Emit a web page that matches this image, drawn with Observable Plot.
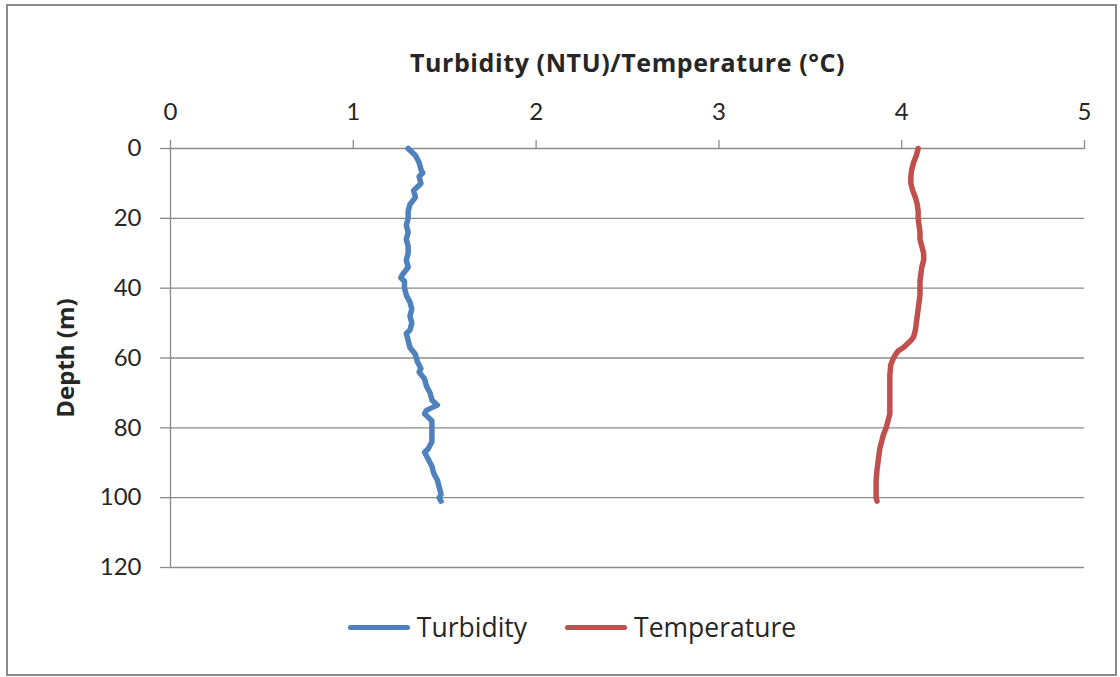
<!DOCTYPE html>
<html>
<head>
<meta charset="utf-8">
<script src="https://cdn.jsdelivr.net/npm/d3@7"></script>
<script src="https://cdn.jsdelivr.net/npm/@observablehq/plot@0.6"></script>
<style>
  html, body { margin: 0; padding: 0; background: #fff; }
  #wrap { position: relative; width: 1120px; height: 677px; overflow: hidden; font-family: Lato, "Open Sans", sans-serif; }
  #frame { position: absolute; left: 6px; top: 4px; width: 1111px; height: 672px; box-sizing: border-box; border: 2px solid #8a8a8a; pointer-events: none; }
  #chart { position: absolute; left: 0; top: 0; }
  #legend { position: absolute; left: 0; top: 606px; width: 1120px; height: 42px; display: flex; justify-content: center; align-items: center; padding-left: 24px; box-sizing: border-box; }
  .item { display: flex; align-items: center; margin: 0 19px; font-family: "Open Sans", Lato, sans-serif; font-size: 26.5px; color: #262626; }
  .sw { width: 62px; height: 5px; border-radius: 3px; margin-right: 7px; }
</style>
</head>
<body>
<div id="wrap">
  <div id="chart"></div>
  <div id="legend"></div>
  <div id="frame"></div>
</div>
<script>
const seriesNames = ["Turbidity", "Temperature"];
const seriesColors = ["#4F81BD", "#C0504D"];
const xTicks = [0, 1, 2, 3, 4, 5];
const yTicks = [0, 20, 40, 60, 80, 100, 120];
const xTitle = "Turbidity (NTU)/Temperature (°C)";
const yTitle = "Depth (m)";

const turbDepth = [0, 1, 2, 4, 6, 7, 8, 10, 12, 14, 16, 18, 20, 22, 24, 26, 28, 30, 32, 34, 36, 37, 38, 40, 42, 44, 46, 48, 50, 52, 53, 55, 57, 59, 61, 63, 64, 66, 68, 70, 72, 73.5, 75, 76, 78, 80, 82, 84, 86, 87, 89, 91, 93, 95, 97, 99, 100, 101];
const turbValue = [1.30, 1.32, 1.34, 1.36, 1.37, 1.38, 1.36, 1.37, 1.33, 1.34, 1.31, 1.30, 1.30, 1.29, 1.30, 1.29, 1.30, 1.30, 1.29, 1.30, 1.27, 1.26, 1.28, 1.28, 1.29, 1.31, 1.32, 1.31, 1.32, 1.31, 1.29, 1.30, 1.31, 1.34, 1.35, 1.37, 1.36, 1.39, 1.40, 1.42, 1.43, 1.46, 1.40, 1.39, 1.43, 1.43, 1.43, 1.43, 1.41, 1.39, 1.41, 1.43, 1.44, 1.46, 1.47, 1.48, 1.47, 1.48];

const tempDepth = [0, 2, 4, 6, 8, 10, 12, 14, 16, 18, 20, 22, 24, 26, 28, 30, 32, 34, 36, 38, 40, 42, 44, 46, 48, 50, 52, 54, 55, 56, 57, 58, 59, 60, 62, 65, 68, 72, 76, 78, 80, 82, 84, 86, 88, 90, 92, 95, 98, 100, 101];
const tempValue = [4.09, 4.08, 4.065, 4.055, 4.05, 4.05, 4.06, 4.075, 4.085, 4.09, 4.09, 4.095, 4.10, 4.10, 4.11, 4.12, 4.12, 4.11, 4.105, 4.10, 4.10, 4.10, 4.095, 4.09, 4.085, 4.08, 4.075, 4.065, 4.05, 4.03, 4.01, 3.98, 3.966, 3.955, 3.94, 3.935, 3.935, 3.935, 3.935, 3.925, 3.915, 3.90, 3.89, 3.88, 3.875, 3.87, 3.865, 3.86, 3.86, 3.86, 3.865];

const turb = turbDepth.map((d, i) => ({depth: d, value: turbValue[i]}));
const temp = tempDepth.map((d, i) => ({depth: d, value: tempValue[i]}));

const textColor = "#262626";
const gridColor = "#8a8a8a";
const fmt = d3.format("d");

const chart = Plot.plot({
  width: 1120,
  height: 600,
  marginLeft: 170,
  marginRight: 36,
  marginTop: 148,
  marginBottom: 33,
  style: {fontFamily: "Lato, 'Open Sans', sans-serif", fontSize: "24px", color: textColor, background: "transparent"},
  x: {domain: [0, 5]},
  y: {domain: [0, 120], reverse: true},
  marks: [
    Plot.gridY(yTicks, {stroke: gridColor, strokeOpacity: 1, strokeWidth: 1.3}),
    Plot.ruleX([0], {stroke: gridColor, strokeWidth: 1.3}),
    Plot.axisX(xTicks, {anchor: "top", tickSize: 9, tickPadding: 20, tickFormat: fmt, stroke: gridColor, strokeWidth: 1.3, fill: textColor, fontSize: 24,
      label: xTitle, labelAnchor: "center", labelOffset: 94, labelArrow: "none"}),
    Plot.axisY(yTicks, {anchor: "left", tickSize: 10, tickPadding: 19, tickFormat: fmt, stroke: gridColor, strokeWidth: 1.3, fill: textColor, fontSize: 24,
      label: yTitle, labelAnchor: "center", labelOffset: 114, labelArrow: "none"}),
    Plot.line(turb, {x: "value", y: "depth", stroke: seriesColors[0], strokeWidth: 5.5, strokeLinejoin: "round", strokeLinecap: "round"}),
    Plot.line(temp, {x: "value", y: "depth", stroke: seriesColors[1], strokeWidth: 5.5, strokeLinejoin: "round", strokeLinecap: "round"})
  ]
});
d3.select(chart).selectAll("g[aria-label='x-axis label'] text")
  .style("font-weight", "bold").style("font-size", "25px").style("letter-spacing", "0.6px").style("font-family", "'Open Sans', Lato, sans-serif");
d3.select(chart).selectAll("g[aria-label='y-axis label'] text")
  .style("font-weight", "bold").style("font-size", "24px").style("font-family", "'Open Sans', Lato, sans-serif");
document.getElementById("chart").appendChild(chart);

const legend = document.getElementById("legend");
seriesNames.forEach((name, i) => {
  const item = document.createElement("div");
  item.className = "item";
  const sw = document.createElement("div");
  sw.className = "sw";
  sw.style.background = seriesColors[i];
  const t = document.createElement("span");
  t.textContent = name;
  item.appendChild(sw);
  item.appendChild(t);
  legend.appendChild(item);
});
</script>
</body>
</html>
